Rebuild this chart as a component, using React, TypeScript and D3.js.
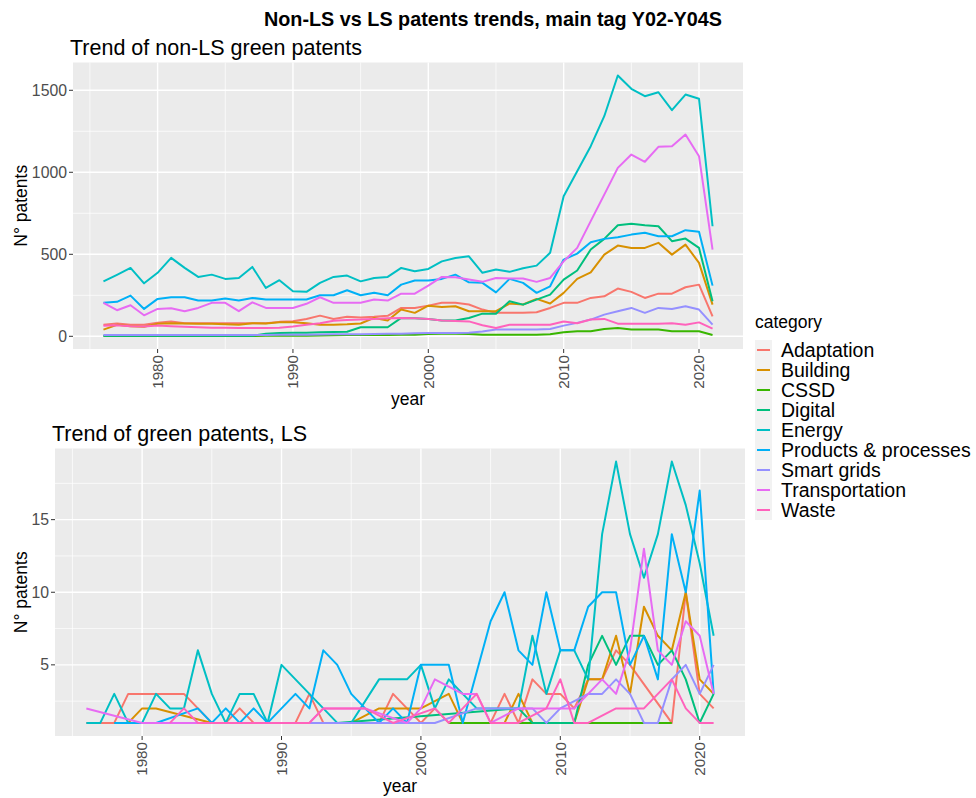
import * as d3 from 'd3';

// categories and colours (ggplot hue palette)
const categories = ['Adaptation', 'Building', 'CSSD', 'Digital', 'Energy', 'Products & processes', 'Smart grids', 'Transportation', 'Waste'];
const colors = ['#F8766D', '#D89000', '#39B600', '#00BF7D', '#00BFC4', '#00B0F6', '#9590FF', '#E76BF3', '#FF62BC'];

const years = [
  1976, 1977, 1978, 1979, 1980, 1981, 1982, 1983, 1984, 1985,
  1986, 1987, 1988, 1989, 1990, 1991, 1992, 1993, 1994, 1995,
  1996, 1997, 1998, 1999, 2000, 2001, 2002, 2003, 2004, 2005,
  2006, 2007, 2008, 2009, 2010, 2011, 2012, 2013, 2014, 2015,
  2016, 2017, 2018, 2019, 2020, 2021,
];

// non-LS patents, one value per year
const adaptation = [70, 78, 70, 70, 82, 90, 80, 80, 80, 80, 80, 80, 80, 88, 92, 106, 126, 106, 119, 115, 119, 125, 173, 173, 187, 204, 204, 194, 163, 143, 143, 143, 147, 173, 204, 204, 234, 244, 291, 271, 234, 260, 260, 299, 315, 122];
const building = [41, 70, 61, 58, 76, 80, 78, 76, 76, 73, 70, 80, 78, 85, 85, 80, 70, 70, 73, 78, 112, 96, 163, 143, 187, 179, 183, 153, 153, 153, 200, 194, 228, 200, 265, 350, 390, 498, 553, 539, 539, 570, 498, 559, 448, 193];
const cssd = [2, 2, 2, 2, 2, 2, 2, 2, 2, 2, 2, 2, 3, 3, 3, 4, 5, 6, 8, 8, 8, 8, 10, 10, 14, 16, 16, 14, 10, 10, 10, 10, 10, 12, 25, 31, 31, 45, 51, 41, 41, 41, 31, 31, 31, 8];
const digital = [3, 3, 3, 3, 3, 3, 3, 3, 3, 3, 3, 3, 15, 20, 21, 21, 24, 26, 28, 55, 55, 55, 112, 110, 106, 96, 96, 112, 138, 138, 214, 193, 224, 254, 346, 401, 529, 594, 677, 686, 677, 671, 580, 596, 539, 214];
const energy = [335, 375, 417, 323, 387, 478, 417, 362, 376, 350, 356, 423, 295, 342, 275, 271, 326, 362, 370, 335, 356, 362, 417, 397, 411, 457, 478, 488, 387, 407, 393, 415, 431, 509, 854, 1006, 1159, 1342, 1590, 1509, 1464, 1488, 1379, 1474, 1448, 671];
const products = [204, 210, 248, 167, 228, 238, 238, 218, 218, 230, 218, 234, 224, 224, 224, 224, 250, 250, 281, 250, 265, 250, 315, 340, 340, 350, 376, 329, 326, 268, 350, 326, 265, 305, 468, 504, 573, 594, 604, 620, 631, 610, 610, 647, 637, 309];
const smartGrids = [8, 8, 8, 8, 8, 8, 8, 8, 8, 8, 8, 8, 8, 9, 10, 10, 11, 12, 12, 13, 14, 15, 16, 18, 20, 20, 20, 22, 30, 41, 41, 41, 41, 45, 65, 82, 102, 132, 153, 173, 143, 173, 167, 183, 163, 71];
const transportation = [204, 159, 189, 128, 167, 171, 153, 173, 204, 204, 153, 207, 173, 173, 173, 198, 238, 204, 204, 204, 224, 218, 260, 260, 309, 362, 360, 346, 332, 356, 352, 352, 332, 356, 457, 539, 702, 864, 1027, 1108, 1064, 1155, 1159, 1230, 1098, 529];
const waste = [65, 68, 62, 60, 66, 62, 58, 55, 52, 52, 50, 50, 50, 52, 60, 70, 80, 95, 100, 102, 106, 110, 112, 110, 106, 96, 93, 91, 67, 51, 70, 70, 70, 70, 90, 80, 102, 106, 77, 77, 77, 77, 80, 70, 85, 47];

// LS patents, [year, count] for the years that have records
const lsAdaptation = [[1976, 1], [1977, 1], [1978, 1], [1979, 3], [1980, 3], [1981, 3], [1982, 3], [1983, 3], [1984, 2], [1985, 1], [1986, 1], [1987, 2], [1988, 1], [1989, 1], [1990, 1], [1991, 1], [1992, 3], [1993, 1], [1997, 1], [1998, 3], [1999, 2], [2000, 1], [2001, 2], [2002, 1], [2005, 1], [2006, 3], [2007, 1], [2008, 4], [2009, 3], [2010, 3], [2011, 2], [2012, 4], [2013, 4], [2014, 6], [2015, 5], [2018, 1], [2019, 10], [2020, 3], [2021, 2]];
const lsBuilding = [[1978, 1], [1979, 1], [1980, 2], [1981, 2], [1985, 1], [1995, 1], [1997, 2], [1998, 2], [1999, 2], [2000, 2], [2002, 3], [2003, 1], [2006, 1], [2007, 3], [2008, 1], [2011, 1], [2012, 4], [2013, 4], [2014, 7], [2015, 3], [2016, 9], [2017, 7], [2018, 6], [2019, 10], [2020, 4], [2021, 3]];
const lsCssd = [[2002, 1], [2018, 1]];
const lsDigital = [[1994, 1], [2007, 2], [2008, 1], [2011, 1], [2012, 5], [2013, 7], [2014, 5], [2015, 7], [2016, 7], [2017, 5], [2018, 6], [2019, 4], [2020, 1], [2021, 3]];
const lsEnergy = [[1976, 1], [1977, 1], [1978, 3], [1979, 1], [1980, 1], [1981, 3], [1982, 2], [1983, 2], [1984, 6], [1985, 3], [1986, 1], [1987, 3], [1988, 3], [1989, 1], [1990, 5], [1991, 4], [1992, 3], [1993, 2], [1994, 1], [1995, 1], [1997, 4], [1998, 4], [1999, 4], [2000, 5], [2001, 2], [2002, 4], [2003, 3], [2004, 2], [2005, 2], [2006, 2], [2007, 2], [2008, 7], [2009, 3], [2010, 6], [2011, 6], [2012, 4], [2013, 14], [2014, 19], [2015, 14], [2016, 11], [2017, 14], [2018, 19], [2019, 16], [2020, 12], [2021, 7]];
const lsProducts = [[1978, 1], [1979, 1], [1980, 1], [1981, 1], [1984, 2], [1985, 1], [1986, 2], [1987, 1], [1988, 2], [1989, 1], [1990, 2], [1991, 3], [1992, 2], [1993, 6], [1994, 5], [1995, 3], [1996, 2], [1997, 1], [1998, 2], [1999, 1], [2000, 5], [2001, 5], [2002, 5], [2003, 1], [2005, 8], [2006, 10], [2007, 6], [2008, 5], [2009, 10], [2010, 6], [2011, 6], [2012, 9], [2013, 10], [2014, 10], [2015, 5], [2016, 7], [2017, 4], [2018, 14], [2019, 10], [2020, 17], [2021, 3]];
const lsSmartGrids = [[1990, 1], [2001, 1], [2004, 2], [2008, 2], [2009, 1], [2010, 2], [2012, 3], [2013, 3], [2014, 4], [2015, 3], [2016, 1], [2017, 1], [2018, 4], [2019, 5], [2020, 3], [2021, 5]];
const lsTransportation = [[1976, 2], [1980, 1], [1992, 1], [1993, 2], [1994, 2], [1995, 2], [1996, 2], [1999, 1], [2000, 2], [2001, 4], [2003, 3], [2004, 3], [2005, 1], [2007, 2], [2008, 2], [2009, 2], [2010, 2], [2011, 2], [2012, 3], [2013, 4], [2014, 3], [2015, 6], [2016, 13], [2017, 6], [2018, 5], [2019, 8], [2020, 7], [2021, 3]];
const lsWaste = [[1982, 1], [1983, 2], [1984, 1], [1992, 1], [1993, 2], [1994, 2], [1995, 2], [1996, 2], [1998, 1], [2001, 2], [2002, 1], [2004, 3], [2005, 1], [2007, 1], [2009, 2], [2010, 4], [2011, 1], [2012, 1], [2014, 2], [2016, 2], [2018, 4], [2019, 2], [2020, 1], [2021, 1]];

const xTicks = [1980, 1990, 2000, 2010, 2020];
const xMinor = [1975, 1985, 1995, 2005, 2015];
const topYTicks = [0, 500, 1000, 1500];
const topYMinor = [250, 750, 1250];
const lsYTicks = [5, 10, 15];
const lsYMinor = [2.5, 7.5, 12.5, 17.5];

const FONT = '"Liberation Sans", Arial, sans-serif';
const PANEL_BG = '#EBEBEB';
const TICK_COL = '#4D4D4D';

type Pt = [number, number];

const topSeries: Pt[][] = [adaptation, building, cssd, digital, energy, products, smartGrids, transportation, waste]
  .map(vals => vals.map((v, i) => [years[i], v] as Pt));
const lsSeries = [lsAdaptation, lsBuilding, lsCssd, lsDigital, lsEnergy, lsProducts, lsSmartGrids, lsTransportation, lsWaste] as Pt[][];

// ggplot-like 5% expansion
function expand(ext: [number, number]): [number, number] {
  const r = ext[1] - ext[0];
  return [ext[0] - r * 0.05, ext[1] + r * 0.05];
}

interface PanelProps {
  series: Pt[][];
  box: { x0: number; x1: number; y0: number; y1: number };
  yTicks: number[];
  yMinor: number[];
  title: string;
  titleY: number;
  xTitleY: number;
}

function Panel({ series, box, yTicks, yMinor, title, titleY, xTitleY }: PanelProps) {
  const allX = series.flat().map(d => d[0]);
  const allY = series.flat().map(d => d[1]);
  const x = d3.scaleLinear().domain(expand(d3.extent(allX) as [number, number])).range([box.x0, box.x1]);
  const y = d3.scaleLinear().domain(expand(d3.extent(allY) as [number, number])).range([box.y1, box.y0]);
  const line = d3.line<Pt>().x(d => x(d[0])).y(d => y(d[1]));
  const midY = (box.y0 + box.y1) / 2;

  return (
    <g>
      <text x={box.x0 - 3} y={titleY} fontSize={21.5} fill="#000">{title}</text>
      <rect x={box.x0} y={box.y0} width={box.x1 - box.x0} height={box.y1 - box.y0} fill={PANEL_BG} />
      {yMinor.map(v => (
        <line key={'ym' + v} x1={box.x0} x2={box.x1} y1={y(v)} y2={y(v)} stroke="#fff" strokeWidth={0.7} />
      ))}
      {xMinor.map(v => (
        <line key={'xm' + v} x1={x(v)} x2={x(v)} y1={box.y0} y2={box.y1} stroke="#fff" strokeWidth={0.7} />
      ))}
      {yTicks.map(v => (
        <line key={'y' + v} x1={box.x0} x2={box.x1} y1={y(v)} y2={y(v)} stroke="#fff" strokeWidth={1.4} />
      ))}
      {xTicks.map(v => (
        <line key={'x' + v} x1={x(v)} x2={x(v)} y1={box.y0} y2={box.y1} stroke="#fff" strokeWidth={1.4} />
      ))}
      {series.map((s, i) => (
        <path key={categories[i]} d={line(s) ?? ''} fill="none" stroke={colors[i]} strokeWidth={2} strokeLinejoin="round" />
      ))}
      {/* y axis */}
      {yTicks.map(v => (
        <g key={'yt' + v}>
          <line x1={box.x0 - 4} x2={box.x0} y1={y(v)} y2={y(v)} stroke="#333" strokeWidth={1} />
          <text x={box.x0 - 6} y={y(v)} dy="0.35em" textAnchor="end" fontSize={15.8} fill={TICK_COL}>{v}</text>
        </g>
      ))}
      {/* x axis, labels turned 90 degrees */}
      {xTicks.map(v => (
        <g key={'xt' + v}>
          <line x1={x(v)} x2={x(v)} y1={box.y1} y2={box.y1 + 4} stroke="#333" strokeWidth={1} />
          <text transform={`translate(${x(v)},${box.y1 + 6}) rotate(-90)`} dy="0.35em" textAnchor="end" fontSize={15.2} fill={TICK_COL}>{v}</text>
        </g>
      ))}
      <text x={(box.x0 + box.x1) / 2} y={xTitleY} textAnchor="middle" fontSize={17.5} fill="#000">year</text>
      <text transform={`translate(27,${midY}) rotate(-90)`} textAnchor="middle" fontSize={17.5} fill="#000">N° patents</text>
    </g>
  );
}

export default function App() {
  const width = 976;
  const height = 798;
  const legendX = 755;
  const legendTop = 340;

  return (
    <svg width={width} height={height} style={{ position: 'absolute', left: 0, top: 0, background: '#fff' }} fontFamily={FONT}>
      <rect width={width} height={height} fill="#fff" />
      <text x={493} y={26} textAnchor="middle" fontSize={19.8} fontWeight="bold" fill="#000">
        Non-LS vs LS patents trends, main tag Y02-Y04S
      </text>
      <Panel series={topSeries} box={{ x0: 73, x1: 743, y0: 62.5, y1: 349 }} yTicks={topYTicks} yMinor={topYMinor}
        title="Trend of non-LS green patents" titleY={55} xTitleY={405} />
      <Panel series={lsSeries} box={{ x0: 55, x1: 745, y0: 448.5, y1: 736 }} yTicks={lsYTicks} yMinor={lsYMinor}
        title="Trend of green patents, LS" titleY={441} xTitleY={792} />
      {/* legend */}
      <text x={legendX} y={328} fontSize={17.5} fill="#000">category</text>
      {categories.map((c, i) => (
        <g key={c} transform={`translate(${legendX},${legendTop + i * 20})`}>
          <rect width={17} height={20} fill="#F2F2F2" />
          <line x1={2} x2={15} y1={10} y2={10} stroke={colors[i]} strokeWidth={2} />
          <text x={26} y={17} fontSize={19.5} fill="#000">{c}</text>
        </g>
      ))}
    </svg>
  );
}
